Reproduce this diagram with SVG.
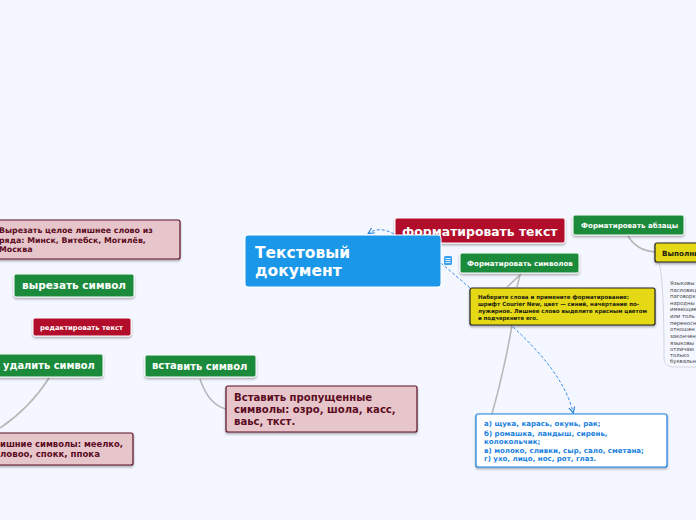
<svg xmlns="http://www.w3.org/2000/svg" width="696" height="520" viewBox="0 0 696 520">
<defs>
<filter id="sh" x="-10%" y="-20%" width="120%" height="150%"><feDropShadow dx="0" dy="1.5" stdDeviation="0.8" flood-color="#000" flood-opacity="0.35"/></filter>
<marker id="arr" markerWidth="7" markerHeight="7" refX="5" refY="3" orient="auto" markerUnits="userSpaceOnUse"><path d="M0,0 L6,3 L0,6" fill="none" stroke="#2f86e0" stroke-width="1.2"/></marker>
</defs>
<style>
text{font-family:"DejaVu Sans","Liberation Sans",sans-serif;font-weight:700}
.g rect{fill:#1a8a3a;stroke:#fff;stroke-width:1;filter:url(#sh)}
.r rect{fill:#b20a2c;stroke:#fff;stroke-width:1;filter:url(#sh)}
.p rect{fill:#e7c6cb;stroke:#5c1028;stroke-width:1.2;filter:url(#sh)}
.y rect{fill:#e5d915;stroke:#222;stroke-width:1.2;filter:url(#sh)}
.w{fill:#fff}
.dk{fill:#5a0c22}
.k{fill:#1c1c10}
.bl{fill:#1a7fe0}
.line{fill:none;stroke:#b8b8b8;stroke-width:1.6}
.thin{fill:none;stroke:#d4d4dc;stroke-width:1}
.dash{fill:none;stroke:#3a8fe8;stroke-width:1;stroke-dasharray:3 2}
</style>
<rect width="696" height="520" fill="#f4f7ff"/>
<g id="connectors">
<path class="line" d="M49,378 C35,400 18,416 0,428"/>
<path class="line" d="M200,379 C205,394 214,406 226,409"/>
<path class="line" d="M628,236 C634,246 642,251 655,252"/>
<path class="thin" d="M659,262 C664,280 664,340 664,358 C664,364 668,367 674,367 L696,367"/>
<path class="line" d="M507,287 L520,275 L517,287"/>
<path class="line" d="M512,325 C507,355 500,385 492,414"/>
<path class="dash" d="M441,263 L470,288"/>
<path class="dash" d="M513,327 C540,352 565,380 573,412" marker-end="url(#arr)"/>
<path class="dash" d="M394,234 C385,229 377,228 369,233" marker-end="url(#arr)"/>
</g>
<g id="n-format-text" class="r"><rect x="395" y="218" width="170" height="25" rx="2"/><text x="402" y="236" font-size="12.4" class="w">форматировать текст</text></g>
<g id="n-root"><rect x="245" y="235" width="196" height="52" rx="3" fill="#1a97e8" stroke="#fff"/><text x="255" y="258" font-size="15.5" class="w">Текстовый</text><text x="255" y="276" font-size="15.5" class="w">документ</text></g>
<g id="n-note-icon"><rect x="444" y="256" width="8" height="9" rx="1.5" fill="#3aa0ee"/><path d="M445.5,258.5h5M445.5,260.5h5M445.5,262.5h5" stroke="#fff" stroke-width="0.8"/></g>
<g id="n-format-para" class="g"><rect x="573" y="215" width="111" height="20" rx="2"/><text x="581" y="228" font-size="7.1" class="w">Форматировать абзацы</text></g>
<g id="n-format-sym" class="g"><rect x="460" y="253" width="119" height="20" rx="2"/><text x="467" y="266" font-size="7.1" class="w">Форматировать символов</text></g>
<g id="n-run" class="y"><rect x="655" y="243" width="60" height="19" rx="2"/><text x="662" y="256" font-size="7.2" class="k">Выполни</text></g>
<g id="n-sym-task" class="y"><rect x="470" y="288" width="185" height="37" rx="2"/>
<g font-size="5.6" class="k"><text x="478" y="299" textLength="151" lengthAdjust="spacingAndGlyphs">Наберите слова и примените форматирование:</text><text x="478" y="306" textLength="161" lengthAdjust="spacingAndGlyphs">шрифт Courier New, цвет — синий, начертание по-</text><text x="478" y="312.500" textLength="169" lengthAdjust="spacingAndGlyphs">лужирное. Лишнее слово выделите красным цветом</text><text x="478" y="319.500" textLength="60" lengthAdjust="spacingAndGlyphs">и подчеркните его.</text></g></g>
<g id="n-proverbs"><text font-size="5.3" fill="#444" style="font-weight:400"><tspan x="670" y="285">Языковы</tspan><tspan x="670" y="291.500">пасловиц</tspan><tspan x="670" y="298">паговорк</tspan><tspan x="670" y="304.500">народны</tspan><tspan x="670" y="311">имеющие</tspan><tspan x="670" y="318">или толь</tspan><tspan x="670" y="324.500">переносн</tspan><tspan x="670" y="331">отношен</tspan><tspan x="670" y="337.500">закончен</tspan><tspan x="670" y="344.500">языковы</tspan><tspan x="670" y="350.500">отличаю</tspan><tspan x="670" y="357">только</tspan><tspan x="670" y="363">буквальн</tspan></text></g>
<g id="n-lists"><rect x="476" y="414" width="191" height="53" rx="2" fill="#fff" stroke="#1a7fe0" stroke-width="1.2" filter="url(#sh)"/>
<text font-size="7.05" class="bl"><tspan x="484" y="426">а) щука, карась, окунь, рак;</tspan><tspan x="484" y="435.500">б) ромашка, ландыш, сирень,</tspan><tspan x="484" y="443.500">колокольчик;</tspan><tspan x="484" y="452.500">в) молоко, сливки, сыр, сало, сметана;</tspan><tspan x="484" y="460.500">г) ухо, лицо, нос, рот, глаз.</tspan></text></g>
<g id="n-cut-task" class="p"><rect x="-20" y="220" width="200" height="39" rx="2"/>
<text font-size="7.85" class="dk"><tspan x="-1" y="233">Вырезать целое лишнее слово из</tspan><tspan x="-1" y="242.500">ряда: Минск, Витебск, Могилёв,</tspan><tspan x="-1" y="252">Москва</tspan></text></g>
<g id="n-cut" class="g"><rect x="14" y="274" width="120" height="23" rx="2"/><text x="22" y="289" font-size="10.5" class="w">вырезать символ</text></g>
<g id="n-edit" class="r"><rect x="33" y="318" width="98" height="18" rx="2"/><text x="40" y="330" font-size="6.8" class="w">редактировать текст</text></g>
<g id="n-delete" class="g"><rect x="-20" y="354" width="123" height="23" rx="2"/><text x="3" y="369" font-size="9.9" class="w">удалить символ</text></g>
<g id="n-delete-task" class="p"><rect x="-20" y="433" width="153" height="32" rx="2"/>
<g font-size="8" class="dk"><text x="0" y="447" textLength="123" lengthAdjust="spacingAndGlyphs">ишние символы: меелко,</text><text x="0" y="457" textLength="100" lengthAdjust="spacingAndGlyphs">ловоо, спокк, ппока</text></g></g>
<g id="n-insert" class="g"><rect x="145" y="355" width="111" height="22" rx="2"/><text font-size="10" class="w"><tspan x="152" y="369">вста</tspan><tspan dy="1">вить символ</tspan></text></g>
<g id="n-insert-task" class="p"><rect x="226" y="386" width="191" height="46" rx="2"/>
<text font-size="10.1" class="dk"><tspan x="234" y="401">Вставить пропущенные</tspan><tspan x="234" y="413">символы: озро, шола, касс,</tspan><tspan x="234" y="425">ваьс, ткст.</tspan></text></g>
</svg>
